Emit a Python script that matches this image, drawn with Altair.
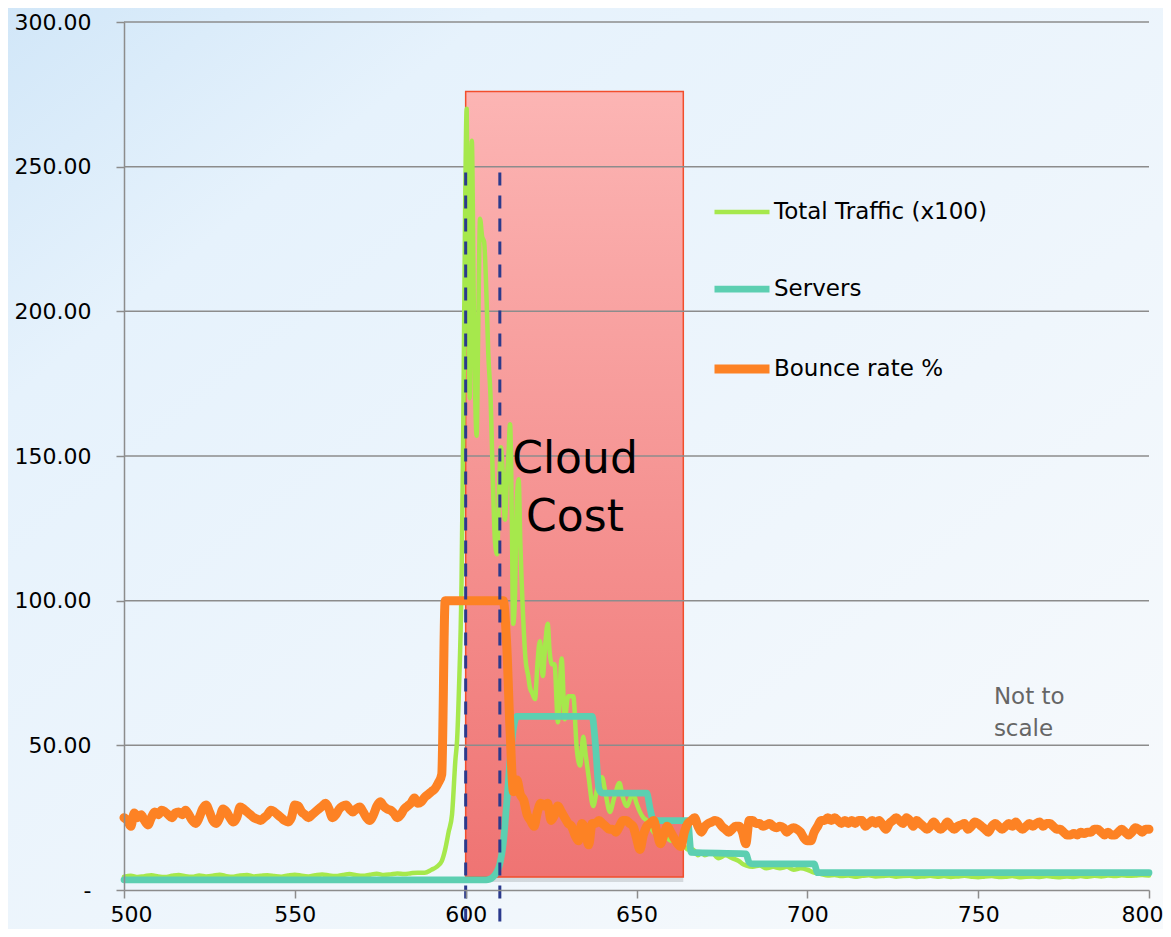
import altair as alt
import pandas as pd

# ---------------- data ----------------
bounce_x = list(range(500, 801))
bounce_y = [
    25, 24, 22, 26.6, 25, 26, 24, 22.5, 25, 27,
    26, 27.6, 27, 26, 25, 26.6, 27, 26, 27.6, 26,
    24, 23, 25, 28, 29.4, 27, 24, 23, 25, 28,
    27, 25, 23.5, 25, 28.7, 28, 27, 26, 25, 24.5,
    24, 25, 26, 27.6, 27, 26, 25, 24, 23.5, 25,
    29.4, 29, 27, 26, 25, 26, 27, 28, 29, 30,
    28, 25, 26, 28, 29, 29.4, 28, 27, 28, 28.7,
    27, 25, 24, 26, 29, 30.5, 29, 28, 27.6, 26.5,
    25, 26, 28, 29, 30, 31.8, 30, 30.5, 32, 33,
    34, 35, 37, 40, 100, 100, 100, 100, 100, 100,
    100, 100, 100, 100, 100, 100, 100, 100, 100, 100,
    100, 100, 85, 55, 34, 38, 33, 31, 26, 24,
    22, 27, 30, 29, 30, 24, 26, 29, 27, 25,
    23, 22, 19, 17, 23, 21, 15.6, 23, 23, 24,
    23, 22, 21, 21, 20, 22, 24, 24, 23, 22,
    18, 14, 19, 22, 23, 24, 20, 16, 19, 22,
    20, 18, 16, 15, 20, 23, 24, 25, 22, 20,
    22, 23, 23.5, 24, 23.5, 22, 21, 20, 21, 22,
    22, 20, 16, 24, 24, 23, 23, 22, 22.5, 23,
    22, 21.5, 22, 21.5, 20, 21, 21.5, 21, 20, 18,
    17, 17, 20, 22, 24, 24, 25, 24, 25, 24,
    23, 24, 23, 24, 23, 24, 24, 22, 23, 24,
    23, 24, 22.5, 21, 23, 24, 25, 24, 23, 25,
    24, 22, 24, 23, 22, 21, 22, 23.5, 22, 21,
    22, 23.5, 22, 21, 22, 22.5, 23, 21, 22, 23.5,
    23, 22, 21, 20, 22, 23, 22, 21, 22, 23,
    22, 23.5, 22, 21, 22, 23, 22, 23, 23.5, 22,
    23, 23, 22, 21, 21, 20, 19, 19, 19.5, 19,
    20, 19.5, 20, 20, 21, 21, 20, 19, 20, 19,
    19, 20, 21, 20, 19, 20, 21.5, 21, 20, 21,
    21,
]

traffic_x = list(range(500, 588, 2)) + [
    588, 590, 591.5, 593, 594, 595, 596, 597, 597.5, 598, 598.8, 599.3, 599.8,
    600.3, 600.7, 601.2, 601.8, 602.4, 603.2, 603.7, 604.2, 604.8, 605.4, 606.1,
    606.6, 607.3, 608, 608.6, 609.2, 609.8, 610.3, 610.8, 611.5, 612, 612.5, 613,
    613.5, 613.9, 614.4, 615, 615.5, 616, 616.8, 617.5, 618.3, 618.8, 619.5,
    620.3, 621, 621.7, 622.6, 623.3, 624, 624.6, 625.3, 626, 627, 628.1, 629,
    630, 631.5, 632.5, 633.5, 634.4, 635.1, 636, 637.3, 638.5, 639.9, 641,
    642.2, 643.5, 645, 646, 647.2, 648, 649, 650, 651, 652, 653, 654, 655, 656,
    657, 658, 659, 660, 661, 662, 663, 664, 665, 666.5, 668, 669, 670, 672,
    674, 676, 678, 680, 681, 682, 684, 686, 688, 690, 692, 694, 696, 698, 700,
    702, 704, 706] + list(range(708, 801, 2))
traffic_y = [
    4.6, 4.9, 4.5, 4.8, 5.1, 4.7, 4.5, 4.9, 5.2, 4.8, 4.6, 5.0, 4.7, 4.9, 5.3,
    4.8, 4.6, 5.0, 5.2, 4.7, 4.9, 5.1, 4.8, 4.6, 5.0, 5.3, 4.9, 4.7, 5.1, 5.4,
    5.0, 4.8, 5.2, 5.5, 5.1, 4.9, 5.3, 5.6, 5.2, 5.4, 5.7, 5.5, 5.8, 6.0,
    6, 7, 8, 10, 14, 20, 26, 45, 52, 68, 107, 160, 230,
    270, 215, 170, 259, 200, 157, 195, 232, 226, 224, 205,
    186, 170, 140, 120, 116, 140, 153, 145, 128, 140, 150, 161,
    130, 92, 100, 135, 142, 120, 95, 80, 74, 70, 68,
    66, 78, 86, 74, 85, 92, 82, 78, 78, 58, 80, 59,
    67, 67, 49, 43, 53, 47, 39, 29, 35, 39, 33,
    27, 32, 37, 32, 29, 31, 33.5, 30, 27, 25, 24, 22, 20, 19,
    18, 19, 18, 17, 18, 16, 15, 15, 14, 14, 12, 13, 12, 13,
    11, 12, 11, 10, 9, 8.5, 8, 8.5, 7.5, 8, 7.5, 8, 7, 7.5, 7,
    6, 5.5, 5,
    5.2, 4.8, 5.0, 4.6, 4.9, 5.1, 4.7, 4.8, 5.0, 4.6, 4.8, 4.9, 4.5, 4.7,
    4.9, 4.6, 4.8, 4.5, 4.7, 4.9, 4.6, 4.4, 4.7, 4.8, 4.5, 4.6, 4.8, 4.4,
    4.6, 4.7, 4.5, 4.8, 4.6, 4.4, 4.7, 4.5, 4.8, 4.6, 4.9, 4.7, 5.0, 4.8,
    5.1, 4.9, 5.0, 5.2, 5.0,
]

servers_x = [500, 606, 607, 608, 609, 610, 611, 612, 613, 614, 615, 637, 638,
             639, 640, 653, 654, 655, 665, 666, 682, 683, 684, 702, 703, 800]
servers_y = [3.5, 3.5, 3.7, 4.5, 6, 9, 16, 30, 45, 56, 60, 60, 50,
             35, 33.5, 33.5, 28, 24, 24, 13, 12.5, 9.5, 9, 9, 6, 6]

series_names = ["Total Traffic (x100)", "Servers", "Bounce rate %"]
series_colors = ["#a6e84c", "#5ccfb1", "#fd8224"]
series_widths = [4.5, 9, 8]

cloud_x, cloud_x2 = [600], [663.7]
cloud_y, cloud_y2 = [4.5], [276]
cloud_label = ["Cloud\nCost"]
cloud_label_x, cloud_label_y = [632], [148.6]

marker_x = [600, 610]
marker_top, marker_bottom = [248, 248], [-16, -16]

note_label = ["Not to\nscale"]
note_x, note_y = [754.6], [66.8]

grid_values = [50, 100, 150, 200, 250, 300]
x_ticks = [500, 550, 600, 650, 700, 750, 800]
y_ticks = [0, 50, 100, 150, 200, 250, 300]

# ---------------- tables ----------------
lines_df = pd.concat([
    pd.DataFrame({"x": traffic_x, "y": traffic_y, "series": series_names[0]}),
    pd.DataFrame({"x": servers_x, "y": servers_y, "series": series_names[1]}),
    pd.DataFrame({"x": bounce_x, "y": bounce_y, "series": series_names[2]}),
], ignore_index=True)

cloud_df = pd.DataFrame({"x": cloud_x, "x2": cloud_x2, "y": cloud_y, "y2": cloud_y2})
cloud_text_df = pd.DataFrame({"x": cloud_label_x, "y": cloud_label_y, "t": cloud_label})
marker_df = pd.DataFrame({"x": marker_x, "y": marker_top, "y2": marker_bottom})
note_df = pd.DataFrame({"x": note_x, "y": note_y, "t": note_label})
grid_df = pd.DataFrame({"y": grid_values})

FONT = "DejaVu Sans"
W, H = 1025, 868

xscale = alt.Scale(domain=[500, 800], nice=False, zero=False)
yscale = alt.Scale(domain=[0, 300], nice=False, zero=False)

x_axis = alt.Axis(values=x_ticks, grid=False, tickSize=8, tickWidth=1.5,
                  tickColor="#8c8c8c", domainColor="#8c8c8c", domainWidth=1.5,
                  labelFont=FONT, labelFontSize=22, labelColor="#000000",
                  labelPadding=6, labelFlush=True, labelFlushOffset=14,
                  title=None, zindex=1)
y_axis = alt.Axis(values=y_ticks, grid=False, tickSize=8, tickWidth=1.5,
                  tickColor="#8c8c8c", domainColor="#8c8c8c", domainWidth=1.5,
                  labelFont=FONT, labelFontSize=22, labelColor="#000000",
                  labelPadding=25, title=None, zindex=1,
                  labelExpr="datum.value == 0 ? '-\u00a0\u00a0' : format(datum.value, '.2f')")

one = pd.DataFrame({"a": [0]})

background = alt.Chart(one).mark_rect(
    fill=alt.LinearGradient(gradient="linear", x1=0, y1=0, x2=1, y2=1, stops=[
        alt.GradientStop(offset=0, color="#d0e6f8"),
        alt.GradientStop(offset=0.22, color="#e6f2fc"),
        alt.GradientStop(offset=1, color="#f8fafc"),
    ])
).encode(x=alt.value(-130), x2=alt.value(W + 40), y=alt.value(-30), y2=alt.value(H + 60))

shadow = alt.Chart(cloud_df).mark_rect(fill="#000000", opacity=0.12, xOffset=4, yOffset=5).encode(
    x=alt.X("x:Q", scale=xscale, axis=x_axis), x2="x2", y=alt.Y("y:Q", scale=yscale, axis=y_axis), y2="y2")

cloud = alt.Chart(cloud_df).mark_rect(
    fill=alt.LinearGradient(gradient="linear", x1=0, y1=0, x2=0, y2=1, stops=[
        alt.GradientStop(offset=0, color="#fcb5b4"),
        alt.GradientStop(offset=1, color="#ef7473"),
    ]),
    stroke="#f24e2c", strokeWidth=1.5
).encode(x="x:Q", x2="x2", y="y:Q", y2="y2")

grid = alt.Chart(grid_df).mark_rule(color="#8c8c8c", strokeWidth=1.5).encode(
    y="y:Q", x=alt.value(0), x2=alt.value(W))

legend = alt.Legend(orient="none", legendX=586, legendY=160, direction="vertical",
                    title=None, symbolType="stroke", symbolSize=3025,
                    labelFont=FONT, labelFontSize=23, labelColor="#000000",
                    labelLimit=400, labelOffset=0, rowPadding=34, padding=0)

lines = alt.Chart(lines_df).mark_line(interpolate="monotone", strokeCap="round",
                                      strokeJoin="round").encode(
    x="x:Q", y="y:Q",
    color=alt.Color("series:N", scale=alt.Scale(domain=series_names, range=series_colors),
                    legend=legend),
    strokeWidth=alt.StrokeWidth("series:N", scale=alt.Scale(domain=series_names, range=series_widths),
                                legend=legend),
    detail="series:N",
)

markers = alt.Chart(marker_df).mark_rule(color="#2b3a8c", strokeWidth=3, strokeDash=[13, 10]).encode(
    x="x:Q", y="y:Q", y2="y2")

cloud_text = alt.Chart(cloud_text_df).mark_text(
    font=FONT, fontSize=44, color="#000000", align="center", baseline="middle",
    lineBreak="\n", lineHeight=58).encode(x="x:Q", y="y:Q", text="t:N")

note = alt.Chart(note_df).mark_text(
    font=FONT, fontSize=23, color="#666666", align="left", baseline="middle",
    lineBreak="\n", lineHeight=32).encode(x="x:Q", y="y:Q", text="t:N")

chart = alt.layer(background, shadow, cloud, grid, lines, markers, cloud_text, note).properties(
    width=W, height=H,
    autosize=alt.AutoSizeParams(type="none"),
    padding={"left": 116, "top": 14, "right": 14, "bottom": 39},
).configure_view(stroke=None).configure(background="#eaf3fc")

chart.save("out.html", embed_options={"renderer": "svg", "actions": False})
